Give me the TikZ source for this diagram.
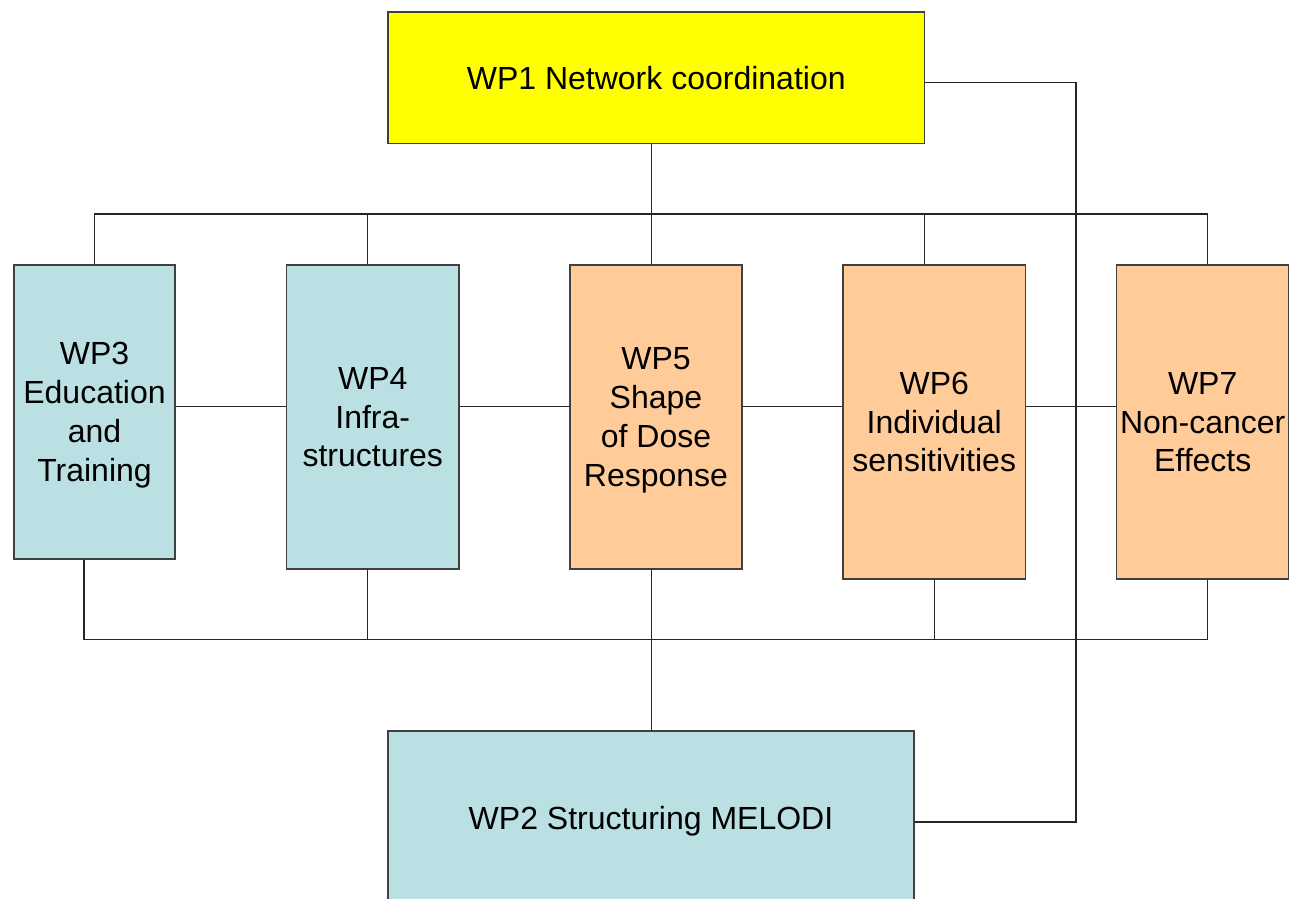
\documentclass[tikz,border=0pt]{standalone}
\usepackage{fontspec}
\setmainfont{Liberation Sans}
\usetikzlibrary{backgrounds}
\definecolor{wpblue}{HTML}{BBE0E3}
\definecolor{wporange}{HTML}{FFCC99}
\definecolor{wpyellow}{HTML}{FFFF00}
\definecolor{wpedge}{HTML}{404040}
\newcommand{\wpfont}{\fontsize{16pt}{19.4pt}\selectfont}
\tikzset{
  wpbox/.style={draw=wpedge, line width=0.7pt, inner sep=0pt, align=center, font=\wpfont, text depth=0pt},
  wplink/.style={draw=black!85, line width=0.65pt},
}
\begin{document}
\begin{tikzpicture}[x=0.5pt,y=-0.5pt]
\useasboundingbox (0,0) rectangle (1292,899);
\clip (0,0) rectangle (1292,899);
\node[wpbox, fill=wpyellow, minimum width=268.25pt, minimum height=65.75pt] (wp1) at (656.25,77.75) {WP1 Network coordination};
\node[wpbox, fill=wpblue, minimum width=80.5pt, minimum height=147pt] (wp3) at (94.5,412) {WP3\\Education\\and\\Training};
\node[wpbox, fill=wpblue, minimum width=86.25pt, minimum height=152pt] (wp4) at (372.75,417) {WP4\\Infra-\\structures};
\node[wpbox, fill=wporange, minimum width=86pt, minimum height=152pt] (wp5) at (656,417) {WP5\\Shape\\of Dose\\Response};
\node[wpbox, fill=wporange, minimum width=91.25pt, minimum height=157pt] (wp6) at (934.25,422) {WP6\\Individual\\sensitivities};
\node[wpbox, fill=wporange, minimum width=86pt, minimum height=157pt] (wp7) at (1202.7,422) {WP7\\Non-cancer\\Effects};
\node[wpbox, fill=wpblue, minimum width=263pt, minimum height=87pt] (wp2) at (651,818) {WP2 Structuring MELODI};
\begin{scope}[on background layer]
  % top bus
  \draw[wplink] (wp3.north -| 94.5,0) -- (94.5,214) -- (1207.5,214) -- (wp7.north -| 1207.5,0);
  \draw[wplink] (wp4.north -| 367.7,0) -- (367.7,214);
  \draw[wplink] (wp1.south -| 651.5,0) -- (wp5.north -| 651.5,0);
  \draw[wplink] (wp6.north -| 924.3,0) -- (924.3,214);
  % middle bus
  \draw[wplink] (wp3.east |- 0,406.7) -- (wp7.west |- 0,406.7);
  % bottom bus
  \draw[wplink] (wp3.south -| 84,0) -- (84,639.3) -- (1207.5,639.3) -- (wp7.south -| 1207.5,0);
  \draw[wplink] (wp4.south -| 367.7,0) -- (367.7,639.3);
  \draw[wplink] (wp5.south -| 651.5,0) -- (wp2.north -| 651.5,0);
  \draw[wplink] (wp6.south -| 934.7,0) -- (934.7,639.3);
  % right loop WP1 -- WP2
  \draw[wplink] (wp1.east |- 0,82.7) -- (1076,82.7) -- (1076,822) -- (wp2.east |- 0,822);
\end{scope}
\end{tikzpicture}
\end{document}
